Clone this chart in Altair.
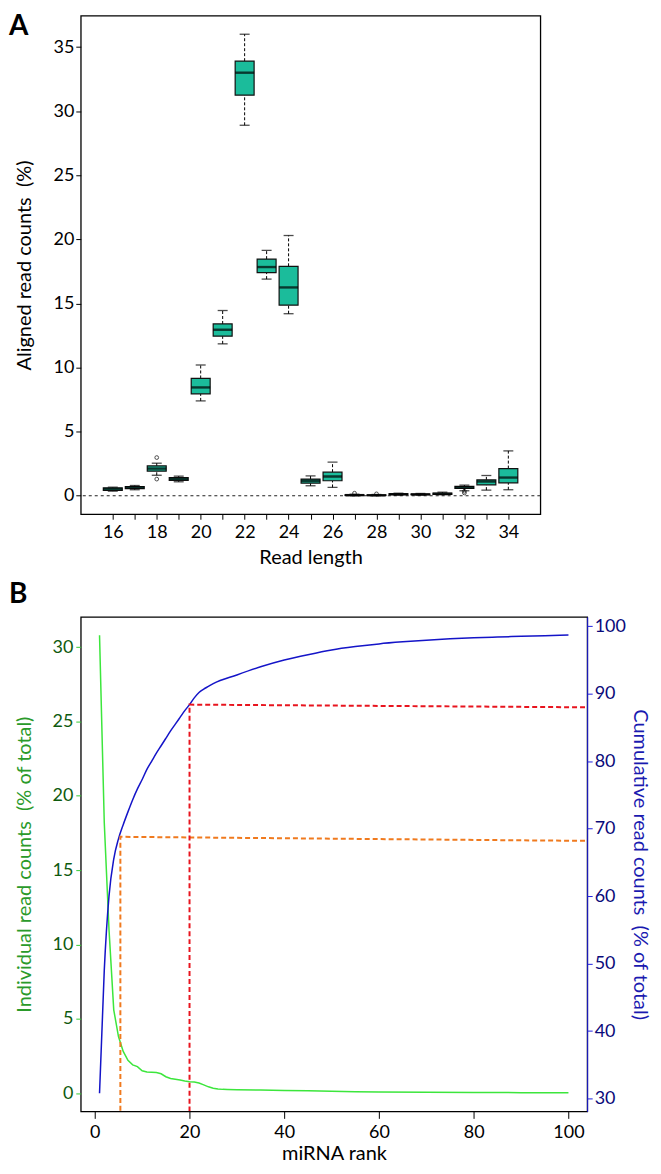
import altair as alt
import pandas as pd

# ---------------- Panel A: box plots by read length ----------------
read_length = list(range(16, 35))
whisk_lo = [0.36, 0.47, 1.60, 1.09, 7.40, 11.85, 28.9, 16.90, 14.20, 0.78, 0.65, 0.00, 0.00, 0.05, 0.05, 0.08, 0.39, 0.44, 0.47]
q1       = [0.41, 0.55, 1.92, 1.20, 7.95, 12.45, 31.25, 17.40, 14.87, 0.98, 1.17, 0.02, 0.02, 0.08, 0.08, 0.10, 0.57, 0.85, 1.01]
median   = [0.52, 0.65, 2.12, 1.32, 8.45, 12.95, 33.0, 17.84, 16.25, 1.17, 1.50, 0.05, 0.04, 0.12, 0.11, 0.15, 0.65, 1.11, 1.42]
q3       = [0.62, 0.72, 2.33, 1.42, 9.15, 13.40, 33.9, 18.46, 17.90, 1.30, 1.84, 0.08, 0.07, 0.16, 0.14, 0.20, 0.73, 1.24, 2.12]
whisk_hi = [0.67, 0.80, 2.54, 1.53, 10.2, 14.45, 36.0, 19.14, 20.30, 1.55, 2.62, 0.12, 0.10, 0.20, 0.18, 0.28, 0.83, 1.58, 3.50]
outlier_len = [18, 18, 27, 28, 32, 32]
outlier_val = [2.98, 1.30, 0.20, 0.15, 0.22, 0.35]
a_ticks = list(range(16, 35))
a_yticks = [0, 5, 10, 15, 20, 25, 30, 35]

# ---------------- Panel B: miRNA rank curves ----------------
green_rank = [1, 2, 3, 4, 5, 6, 7, 8, 9, 10, 11, 12, 13, 14, 15, 16, 17, 18, 19, 20,
              21, 22, 23, 24, 25, 26, 27, 28, 30, 35, 40, 45, 50, 55, 60, 70, 80, 90, 100]
green_val = [30.8, 18.2, 11.0, 5.6, 3.8, 2.8, 2.2, 1.9, 1.78, 1.5, 1.42, 1.4, 1.38, 1.3, 1.1, 0.98, 0.93, 0.88, 0.82, 0.77,
             0.74, 0.68, 0.55, 0.42, 0.33, 0.28, 0.25, 0.24, 0.23, 0.21, 0.18, 0.15, 0.12, 0.09, 0.07, 0.05, 0.04, 0.03, 0.02]
cum_rank = [1, 2, 3, 4, 5, 6, 7, 8, 9, 10, 11, 12, 13, 14, 15, 16, 17, 18, 19, 20,
            21, 22, 23, 24, 25, 30, 35, 40, 45, 50, 55, 60, 65, 70, 75, 80, 85, 90, 95, 100]
cum_val = [30.8, 49.0, 60.0, 65.5, 68.5, 70.6, 72.5, 74.3, 75.9, 77.3, 78.8, 80.0, 81.2, 82.3, 83.4, 84.5, 85.5, 86.5, 87.5, 88.4,
           89.4, 90.2, 90.7, 91.1, 91.5, 92.8, 94.0, 95.0, 95.8, 96.5, 97.0, 97.4, 97.7, 97.95, 98.15, 98.3, 98.42, 98.52, 98.62, 98.7]
guide_name = ["orange", "orange", "orange", "red", "red", "red"]
guide_order = [0, 1, 2, 0, 1, 2]
guide_rank = [103.5, 5.4, 5.4, 103.5, 20.0, 20.0]
guide_cum = [68.2, 68.8, 28.1, 88.0, 88.4, 28.1]
b_xticks = [0, 20, 40, 60, 80, 100]
b_left_ticks = [0, 5, 10, 15, 20, 25, 30]
b_right_ticks = [30, 40, 50, 60, 70, 80, 90, 100]
panel_letters = ["A", "B"]

FONT = "Lato"
LBL = 18
TTL = 20
BOX_FILL = "#1BBC9B"

# ---------- Panel A ----------
dfa = pd.DataFrame({"len": read_length, "lo": whisk_lo, "q1": q1, "med": median, "q3": q3, "hi": whisk_hi})
dfo = pd.DataFrame({"len": outlier_len, "val": outlier_val})

xa_scale = alt.Scale(domain=[16 - 1.23, 34 + 1.23], nice=False, zero=False)
ya_scale = alt.Scale(domain=[-1.44, 37.44], nice=False, zero=False)
xa = alt.X("len:Q", scale=xa_scale,
           axis=alt.Axis(values=a_ticks, title="Read length", grid=False, domain=False,
                         labelExpr="datum.value % 2 == 0 ? datum.label : ''",
                         tickColor="black", tickSize=5, labelPadding=4, titlePadding=6,
                         labelFontSize=LBL, titleFontSize=TTL, labelColor="black", titleColor="black",
                         titleFontWeight="normal", labelFont=FONT, titleFont=FONT))
ya_axis = alt.Axis(values=a_yticks, title="Aligned read counts\u00a0 (%)", grid=False, domain=False,
                   tickColor="black", tickSize=5, labelPadding=2, titlePadding=19,
                   labelFontSize=LBL, titleFontSize=TTL, labelColor="black", titleColor="black",
                   titleFontWeight="normal", labelFont=FONT, titleFont=FONT)

base_a = alt.Chart(dfa)
whisk_low = base_a.mark_rule(color="black", strokeDash=[3, 2], strokeWidth=1).encode(
    x=xa, y=alt.Y("lo:Q", scale=ya_scale, axis=ya_axis), y2="q1:Q")
whisk_up = base_a.mark_rule(color="black", strokeDash=[3, 2], strokeWidth=1).encode(
    x=xa, y=alt.Y("q3:Q", scale=ya_scale, axis=ya_axis), y2="hi:Q")
cap_low = base_a.mark_tick(color="black", orient="horizontal", size=10, thickness=1.3).encode(
    x=xa, y=alt.Y("lo:Q", scale=ya_scale, axis=ya_axis))
cap_up = base_a.mark_tick(color="black", orient="horizontal", size=10, thickness=1.3).encode(
    x=xa, y=alt.Y("hi:Q", scale=ya_scale, axis=ya_axis))
boxes = base_a.mark_bar(fill=BOX_FILL, stroke="#111111", strokeWidth=1.2, size=19).encode(
    x=xa, y=alt.Y("q1:Q", scale=ya_scale, axis=ya_axis), y2="q3:Q")
meds = base_a.mark_tick(color="black", orient="horizontal", size=19, thickness=2.4).encode(
    x=xa, y=alt.Y("med:Q", scale=ya_scale, axis=ya_axis))
outs = alt.Chart(dfo).mark_point(shape="circle", size=14, color="black", strokeWidth=1, filled=False).encode(
    x=xa, y=alt.Y("val:Q", scale=ya_scale, axis=ya_axis))
zero_line = alt.Chart(pd.DataFrame({"z": [0]})).mark_rule(color="#222222", strokeDash=[3, 3], strokeWidth=1.2).encode(
    y=alt.Y("z:Q", scale=ya_scale, axis=ya_axis))
letter_a = alt.Chart(pd.DataFrame({"t": [panel_letters[0]]})).mark_text(
    fontSize=28, fontWeight="bold", font=FONT, align="left", baseline="top", color="black").encode(
    text="t:N", x=alt.value(-72), y=alt.value(-3))

panel_a = alt.layer(zero_line, whisk_low, whisk_up, cap_low, cap_up, boxes, meds, outs, letter_a).properties(
    width=461, height=500)

# ---------- Panel B ----------
dfg = pd.DataFrame({"rank": green_rank, "ind": green_val})
dfc = pd.DataFrame({"rank": cum_rank, "cum": cum_val})
dfd = pd.DataFrame({"rank": guide_rank, "cum": guide_cum, "guide": guide_name, "ord": guide_order})

xb = alt.X("rank:Q", scale=alt.Scale(domain=[-2.96, 103.96], nice=False, zero=False),
           axis=alt.Axis(values=b_xticks, title="miRNA rank", grid=False, domain=False,
                         tickColor="black", tickSize=7, labelPadding=5, titlePadding=2,
                         labelFontSize=LBL, titleFontSize=TTL, labelColor="black", titleColor="black",
                         titleFontWeight="normal", labelFont=FONT, titleFont=FONT))
yb_left = alt.Y("ind:Q", scale=alt.Scale(domain=[-1.23, 32.03], nice=False, zero=False),
                axis=alt.Axis(orient="left", values=b_left_ticks, title="Individual read counts\u00a0 (% of total)",
                              grid=False, domain=False, tickColor="#33CC33", tickSize=5, labelPadding=3,
                              titlePadding=18, labelFontSize=LBL, titleFontSize=TTL,
                              labelColor="#0E5A0E", titleColor="#2A9A2A", titleFontWeight="normal",
                              labelFont=FONT, titleFont=FONT))
right_axis = alt.Axis(orient="right", values=b_right_ticks, title="Cumulative read counts\u00a0 (% of total)",
                      grid=False, domain=True, domainColor="#2020E0", tickColor="#2020E0", tickSize=5,
                      labelPadding=2, titlePadding=4, labelFontSize=LBL, titleFontSize=TTL,
                      labelColor="#0A0A7A", titleColor="#1A1AB0", titleFontWeight="normal",
                      labelFont=FONT, titleFont=FONT)
right_scale = alt.Scale(domain=[28.1, 101.4], nice=False, zero=False)

green = alt.Chart(dfg).mark_line(color="#3CE63C", strokeWidth=1.5).encode(x=xb, y=yb_left)
blue = alt.Chart(dfc).mark_line(color="#1414C8", strokeWidth=1.5, interpolate="monotone").encode(
    x=xb, y=alt.Y("cum:Q", scale=right_scale, axis=right_axis))
guides = alt.Chart(dfd).mark_line(strokeDash=[5, 3], strokeWidth=2, clip=True).encode(
    x=xb, y=alt.Y("cum:Q", scale=right_scale, axis=right_axis),
    color=alt.Color("guide:N", scale=alt.Scale(domain=["orange", "red"], range=["#F07A1E", "#E8141E"]), legend=None),
    order="ord:Q")
letter_b = alt.Chart(pd.DataFrame({"t": [panel_letters[1]]})).mark_text(
    fontSize=28, fontWeight="bold", font=FONT, align="left", baseline="top", color="black").encode(
    text="t:N", x=alt.value(-72), y=alt.value(-36))

right_layer = alt.layer(blue, guides)
panel_b = alt.layer(green, right_layer, letter_b).resolve_scale(y="independent").properties(
    width=508, height=496)

chart = alt.vconcat(panel_a, panel_b, spacing=12).properties(
    padding={"left": 0, "top": 2, "right": 3, "bottom": 0}
).configure(font=FONT).configure_view(stroke="black", strokeWidth=1.3)

chart.save("out.html", embed_options={"renderer": "svg", "actions": False})
